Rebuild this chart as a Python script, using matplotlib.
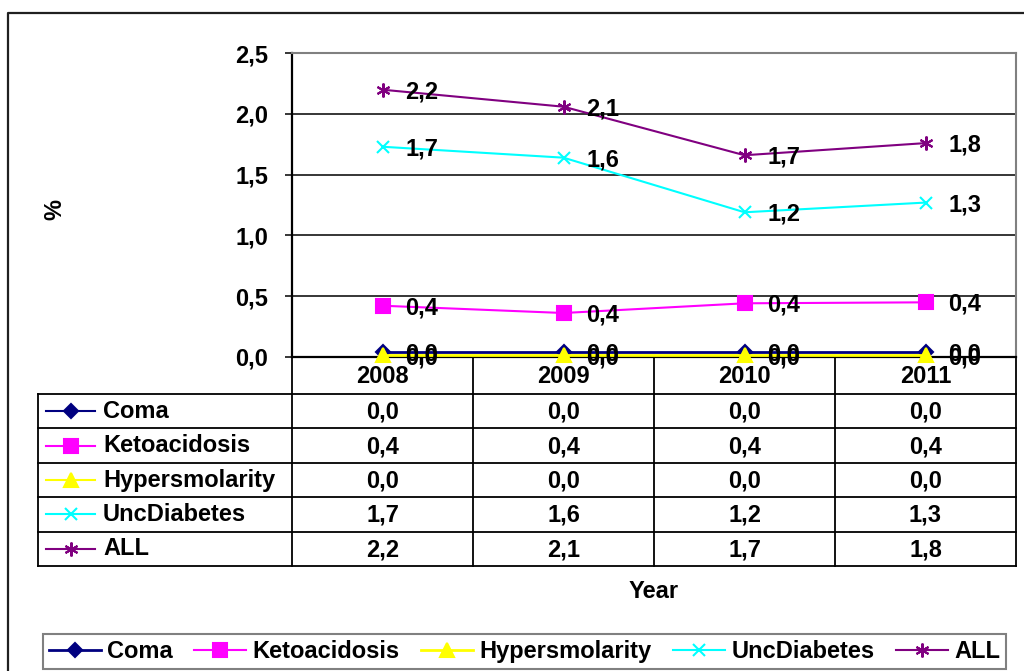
import numpy as np
import matplotlib
matplotlib.use('Agg')
import matplotlib.pyplot as plt

plt.rcParams['font.family'] = ['Liberation Sans', 'DejaVu Sans']
plt.rcParams['font.weight'] = 'bold'

# rates per year (%)
years = ['2008', '2009', '2010', '2011']
coma = [0.04, 0.04, 0.04, 0.04]
ketoacidosis = [0.42, 0.36, 0.44, 0.448]
hypersmolarity = [0.01, 0.01, 0.01, 0.01]
unc_diabetes = [1.73, 1.64, 1.19, 1.27]
all_causes = [2.20, 2.06, 1.66, 1.76]
series_names = ['Coma', 'Ketoacidosis', 'Hypersmolarity', 'UncDiabetes', 'ALL']
y_ticks = [0.0, 0.5, 1.0, 1.5, 2.0, 2.5]

series = [coma, ketoacidosis, hypersmolarity, unc_diabetes, all_causes]
colors = ['#000080', '#FF00FF', '#FFFF00', '#00FFFF', '#800080']
markers = ['D', 's', '^', 'x', (6, 2, 0)]
msizes = [7, 10, 10, 9, 10]
FS = 17


def fmt(v):
    return f'{v:.1f}'.replace('.', ',')


W, H = 1024, 671
fig = plt.figure(figsize=(W / 100, H / 100), dpi=100)
left, right, top, bottom = 292, 1016, 53.3, 356.7
ax = fig.add_axes([left / W, 1 - bottom / H, (right - left) / W, (bottom - top) / H])
ax.set_xlim(-0.5, len(years) - 0.5)
ax.set_ylim(0, 2.5)

for y in y_ticks[1:-1]:
    ax.axhline(y, color='black', lw=1.1, zorder=1)
for s in ['top', 'right']:
    ax.spines[s].set_color('#808080')
    ax.spines[s].set_linewidth(1.5)
for s in ['left', 'bottom']:
    ax.spines[s].set_color('black')
    ax.spines[s].set_linewidth(1.6)

ax.set_yticks(y_ticks)
ax.set_yticklabels([fmt(t) for t in y_ticks], fontsize=FS, fontweight='bold')
ax.tick_params(axis='y', length=5, width=1.1, pad=12, direction='out')
ax.set_xticks([])

x = np.arange(len(years))
handles = []
for name, vals, c, m, ms in zip(series_names, series, colors, markers, msizes):
    lw = 2.0 if name in ('Coma', 'Hypersmolarity') else 1.5
    h, = ax.plot(x, vals, color=c, marker=m, markersize=ms, lw=lw,
                 markeredgewidth=1.5, clip_on=False, zorder=3, label=name)
    handles.append(h)
    for i, v in enumerate(vals):
        ax.annotate(fmt(v), (i, v), xytext=(16.5, -1.5), textcoords='offset points',
                    ha='left', va='center', fontsize=FS, fontweight='bold', zorder=4,
                    annotation_clip=False)

# overlay in pixel coordinates for the data table and frame
ov = fig.add_axes([0, 0, 1, 1], zorder=-1)
ov.set_xlim(0, W)
ov.set_ylim(H, 0)
ov.axis('off')

ov.plot([8, 8, W + 5], [H + 5, 13, 13], color='#202020', lw=1.6, clip_on=False)

col_w = (right - left) / len(years)
edges = left + col_w * np.arange(len(years) + 1)
centers = edges[:-1] + col_w / 2
label_left = 38
row_top = 394.0
row_h = 34.4
n_rows = len(series_names)
table_bottom = row_top + n_rows * row_h

for k in range(n_rows + 1):
    yk = row_top + k * row_h
    ov.plot([label_left, right], [yk, yk], color='black', lw=1.3)
for ex in edges:
    ov.plot([ex, ex], [bottom, table_bottom], color='black', lw=1.3)
ov.plot([label_left, label_left], [row_top, table_bottom], color='black', lw=1.3)

for cx, yr in zip(centers, years):
    ov.text(cx, (bottom + row_top) / 2 + 1, yr, ha='center', va='center',
            fontsize=FS, fontweight='bold')

for k, (name, vals, c, m, ms) in enumerate(zip(series_names, series, colors, markers, msizes)):
    yc = row_top + (k + 0.5) * row_h
    ov.plot([46, 95], [yc, yc], color=c, lw=1.5)
    ov.plot([70.5], [yc], color=c, marker=m, markersize=ms, markeredgewidth=1.5)
    ov.text(103, yc, name, ha='left', va='center', fontsize=FS, fontweight='bold')
    for cx, v in zip(centers, vals):
        ov.text(cx, yc + 1, fmt(v), ha='center', va='center', fontsize=FS, fontweight='bold')

ov.text(55, 210, '%', rotation=90, ha='center', va='center', fontsize=FS, fontweight='bold')
ov.text((left + right) / 2, 592, 'Year', ha='center', va='center', fontsize=FS, fontweight='bold')

leg = fig.legend(handles, series_names, ncol=5, mode='expand', loc='lower left',
                 bbox_to_anchor=(43 / W, 1 - 669 / H, (1006 - 43) / W, (669 - 631) / H),
                 borderaxespad=0, fancybox=False, edgecolor='#808080', framealpha=1,
                 handlelength=2.2, handletextpad=0.25, borderpad=0.25, numpoints=1,
                 prop={'size': FS, 'weight': 'bold'})
leg.get_frame().set_linewidth(1.5)

fig.savefig('out.png', dpi=100)
